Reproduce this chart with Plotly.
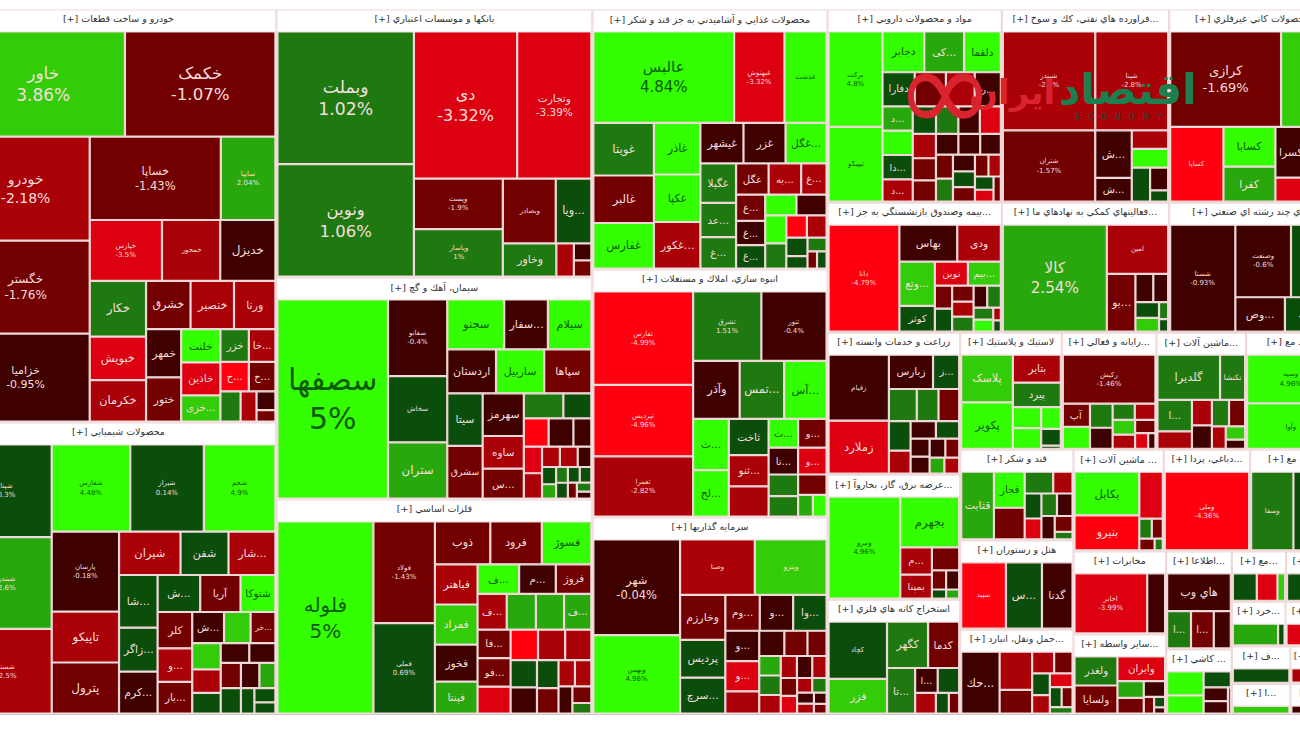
import plotly.graph_objects as go

# Names run out before values: the small tiles have no label.
auto_names = ["خاور", "خکمک", "خودرو", "خگستر", "خزامیا", "خساپا", "سایپا", "خپارس", "خمحور", "خدیزل", "خکار", "خبویش", "خکرمان", "خشرق", "خنصیر", "ورنا", "خمهر", "ختور", "خلنت", "خاذین", "خزی...", "خزر", "خا...", "خ...", "خ..."]
auto_values = [16564, 15251, 12875, 11500, 10875, 10560, 4400, 4248, 3422, 3245, 3025, 2365, 2255, 2068, 2021, 1927, 1632, 1496, 1260, 1250, 988, 900, 841, 806, 754, 589, 465, 342, 209]
auto_pct = [3.86, -1.07, -2.18, -1.76, -0.95, -1.43, 2.04, -3.5, -2.5, -0.6, 1.5, -3.5, -2.8, -1.5, -2.5, -2.6, -0.5, -1.4, 4.2, -3.5, 3.5, 1.2, -2.2, -4.5, -1.8, 1.5, -2.5, -0.5, -1.5]

chem_names = ["شپنا", "شبندر", "شستا", "شفارس", "شیراز", "شجم", "پارسان", "تاپیکو", "پترول", "شیران", "شفن", "شار...", "شا...", "زاگر...", "کرم...", "ش...", "آریا", "شتوکا", "کلر", "و...", "بار...", "ش...", "", "خر..."]
chem_values = [7826, 7740, 7138, 6399, 5994, 5832, 5040, 3213, 3213, 2500, 1950, 1908, 1900, 1584, 1512, 1476, 1395, 1209, 1178, 1088, 1024, 928, 775, 725, 700, 624, 550, 525, 480, 480, 480, 437, 380, 320, 280, 220]
chem_pct = [0.3, 2.6, -2.5, 4.48, 0.14, 4.9, -0.18, -2.8, -1.8, -2.8, 0.8, -3, 0.7, 0.6, -0.5, 0.5, -1.6, 4.5, -1.6, -2.5, -1.6, -0.6, 3.6, -1.5, 3, -2.6, 0.5, -0.5, -0.6, -1.5, 0.5, -0.6, 2.5, 0.6, 0.6, 0.6]

bank_names = ["وبملت", "ونوین", "دی", "وتجارت", "وپست", "وپاسار", "وبصادر", "ویا...", "وخاور"]
bank_values = [17554, 14874, 14729, 10582, 4350, 4089, 3328, 2240, 1716, 561, 289, 272]
bank_pct = [1.02, 1.06, -3.32, -3.39, -1.9, 1.0, -1.6, 0.7, 1.3, -2.4, -0.5, -1.6]

cement_names = ["سصفها", "سفانو", "سخاش", "ستران", "سجنو", "سفار...", "سیلام", "اردستان", "ساربیل", "سپاها", "سیتا", "سشرق", "سهرمز", "ساوه", "س..."]
cement_values = [20000, 4125, 3575, 3025, 2576, 1978, 1968, 1950, 1927, 1886, 1692, 1692, 1598, 1224, 1116, 900, 638, 638, 638, 462, 440, 418, 330, 330, 252, 221, 182, 169, 169, 168, 165, 130, 120, 90]
cement_pct = [5, -0.4, 0.6, 2, 4, -0.5, 4.5, -0.7, 4.5, -1.7, 0.7, -1.6, -0.6, -2.6, -1.5, 1.2, 0.6, -4.8, -0.6, -0.6, -3.2, -2.4, -2.6, -2.6, -0.6, 0.6, 2, 1, 0.6, 0.7, 0.7, -1.5, 1, -0.5]

metal_names = ["فلوله", "فولاد", "فملی", "ذوب", "فرود", "فسوژ", "فباهنر", "فمراد", "فخوز", "فپنتا", "ف...", "م...", "فروژ", "ف...", "", "", "ف...", "فا...", "فو..."]
metal_values = [16808, 5700, 5073, 2166, 2014, 1938, 1560, 1560, 1440, 1240, 1122, 990, 960, 952, 952, 918, 891, 858, 858, 810, 759, 750, 726, 660, 627, 550, 500, 396, 396, 342, 286, 182]
metal_pct = [5, -1.43, 0.69, -1.6, -1.6, 4.5, -2.8, 3.5, -0.6, 2, 4, -0.6, -1.6, -2.5, 2, 2, 2.5, -1.8, -1.6, -4, -4.8, -2.6, -2.5, 0.7, -0.6, 0.7, -1.6, -2.5, -2.5, -0.8, -1.6, 1.2]

food_names = ["عالبس", "غبهنوش", "غدشت", "غویتا", "غالبر", "غفارس", "غاذر", "غکپا", "غکور...", "غیشهر", "غزر", "غگل...", "غگیلا", "عد...", "غ...", "غگل", "به...", "غ...", "غ...", "غ...", "غ..."]
food_values = [11782, 4214, 3526, 2912, 2632, 2520, 2193, 2021, 1978, 1596, 1558, 1520, 1287, 1122, 1023, 928, 928, 725, 702, 648, 621, 594, 572, 540, 486, 418, 400, 360, 240, 240, 150, 150]
food_pct = [4.84, -3.32, 4.8, 1.2, -1.1, 4.5, 4, 4.2, -2.4, -0.6, -0.6, 4.4, 1.3, 1.8, 1.2, -1.6, -3, -2.7, -2, -0.7, 0.6, 4.5, -0.5, 4.4, 1.4, -4.8, -3, 0.6, 0.7, 1.5, -2, 0.7]

build_names = ["ثفارس", "ثپردیس", "ثعمرا", "ثشرق", "ثنور", "وآذر", "تمس...", "آس...", "ث...", "لح...", "ثاخت", "ثنو...", "", "ث...", "و...", "تا...", "و..."]
build_values = [8550, 6555, 5510, 4355, 4160, 2475, 2365, 2255, 1683, 1518, 1330, 1140, 1102, 783, 756, 725, 700, 588, 551, 532, 294, 273]
build_pct = [-4.99, -4.96, -2.82, 1.51, -0.4, -0.6, 1.3, 4.4, 4.4, 4.4, 0.6, -3, -2.8, 4.5, -1.5, -0.5, -4, 1.2, 1.5, -1.6, 2.2, 4]

invest_names = ["شهر", "وبهمن", "وصنا", "وپترو", "وخارزم", "پردیس", "سرچ...", "وم...", "و...", "وا...", "و...", "و..."]
invest_values = [7520, 6160, 3750, 3600, 1848, 1554, 1470, 1122, 1089, 1089, 930, 930, 682, 575, 529, 437, 380, 380, 361, 323, 306, 285, 266, 260, 200, 190, 170, 150, 130, 110]
invest_pct = [-0.04, 4.96, -2.9, 3.5, -1.8, 0.6, 0.7, -1.6, -0.6, 0.7, -0.7, -4, -2.5, -0.6, -1.6, -1.6, 2.3, 1.2, -2.6, -2.6, -0.7, -2.6, -1.5, -3.8, -2.6, 1, -0.7, -2.5, -0.6, -1.5]

drug_names = ["برکت", "تیپیکو", "دجابر", "کی...", "دلقما", "دفارا", "", "", "ر...", "د...", "", "دا...", "د..."]
drug_values = [4185, 3285, 1386, 1320, 1221, 896, 868, 800, 728, 598, 598, 598, 550, 520, 500, 480, 470, 460, 420, 400, 380, 370, 350, 330, 320, 300, 280, 260, 240, 220, 200, 180, 150]
drug_pct = [4.8, 4.8, 4, 2, 4, 0.7, -1.5, -2.5, -0.6, 2.5, 4.4, 0.5, -2.6, 0.6, 1.2, -0.6, -3.5, -2.2, -1.6, -1.6, -0.6, -0.6, -0.6, -1.5, 1.5, -0.5, 0.7, -2, -1.6, -2.5, 0.5, -4, -1.5]

oil_names = ["شبندر", "شپنا", "شتران", "ش...", "ش..."]
oil_values = [8460, 6674, 6106, 1610, 805, 630, 630, 578, 380, 190]
oil_pct = [-2.2, -2.8, -1.57, -0.6, -0.6, -2.6, 4, 0.5, -0.6, 0.6]

mineral_names = ["کرازی", "کچاد", "کساپا", "کسابا", "کفرا", "کسرا", "ک..."]
mineral_values = [9900, 4770, 3724, 1932, 1700, 1500, 1300, 630, 400, 300]
mineral_pct = [-1.69, 3, -4.5, 4.5, 2.8, -0.6, -0.6, -4, 0.7, -1.5]

insur_names = ["دانا", "بهاس", "ودی", "وتع...", "کوثر", "نوین", "بیم..."]
insur_values = [7062, 1995, 1505, 1462, 850, 736, 736, 370, 370, 320, 300, 300, 280, 280, 220, 220, 90, 80]
insur_pct = [-4.79, -0.6, -2.6, 3.2, 0.6, -3.5, 3.5, -1.5, 0.6, -1.5, -2.6, 1, -0.6, 1.5, 1.5, 4, -2.6, 0.5]

aux_names = ["کالا", "امین", "بو..."]
aux_values = [10700, 2898, 1593, 486, 405, 360, 312, 150, 110]
aux_pct = [2.54, -2.8, -1.8, -0.6, -0.6, 0.6, 3, 1.5, 0.6]

multi_names = ["شستا", "وصنعت", "وتوکا", "وص...", "اك..."]
multi_values = [6741, 3905, 3053, 1650, 1650]
multi_pct = [-0.93, -0.6, 0.6, -0.7, 0.7]

farm_names = ["زقیام", "زملارد", "زبارس", "ز..."]
farm_values = [3355, 2695, 1276, 756, 754, 588, 560, 540, 420, 375, 345, 289, 272, 252, 221, 200, 200]
farm_pct = [-0.4, -3.8, -0.6, 0.5, 1.8, 1.2, -1.8, 0.5, -2.6, -0.6, 0.5, -0.6, -0.6, -0.6, -2, 2, -2.6]

power_names = ["ونیرو", "بجهرم", "م...", "بمپنا"]
power_values = [6633, 2714, 780, 690, 567, 247, 228, 117, 108]
power_pct = [4.96, 4.2, -2.8, -3, -1.6, -1.5, -0.6, 0.7, 2]

mine_names = ["کچاد", "فزر", "کگهر", "کدما", "تا...", "ا..."]
mine_values = [3132, 1890, 1782, 1350, 1196, 525, 500, 399, 250, 200]
mine_pct = [0.7, 3, 1.5, -1.8, 1.5, -0.7, 0.7, -2.6, 0.7, -1.6]

rubber_names = ["پلاسک", "پکویر", "بتایر", "پیرد"]
rubber_values = [2160, 2112, 1176, 1029, 525, 513, 378, 288, 54]
rubber_pct = [3, 4, -2.8, 1.2, 4.4, 4, 4.2, 0.5, 0.7]

it_names = ["رکیش", "آپ"]
it_values = [4004, 552, 528, 480, 420, 315, 294, 294, 280, 240, 180, 100]
it_pct = [-1.46, -1.8, 4.3, 1.2, -0.5, 1.4, -2.6, 3, -2.6, -1.5, -4, -0.5]

mach_names = ["گلدیرا", "تکنشا", "ا..."]
mach_values = [2400, 960, 920, 512, 432, 396, 384, 360, 264, 220, 150]
mach_pct = [1.2, 1.3, 1.1, -2.8, -3, -0.6, 1, -1.6, -3, 3, -0.5]

fund_names = ["وسپه", "وآوا"]
fund_values = [4002, 3741]
fund_pct = [4.96, 4.96]

sugar_names = ["قثابت", "قجار"]
sugar_values = [1806, 902, 792, 506, 342, 342, 285, 285, 285, 253, 230, 110]
sugar_pct = [2.3, 4, -1.6, 1.5, -3, 0.5, -4, 1.2, -0.6, -0.6, -1.5, 1.5]

hotel_names = ["سپید", "س...", "گدنا"]
hotel_values = [2583, 2079, 1764]
hotel_pct = [-4.3, 0.6, -0.6]

transit_names = ["حك..."]
transit_values = [2480, 1302, 800, 500, 418, 400, 340, 323, 247, 228, 150]
transit_pct = [-0.6, -2.3, -1.8, -2.2, -1.6, 0.6, -3, -4, 0.7, -2, 1.5]

elec_names = ["بکابل", "بنیرو"]
elec_values = [2583, 2079, 1008, 228, 200, 165, 88]
elec_pct = [4.3, -4.5, -4, 1.2, -1.6, -1.6, 1.5]

leather_names = ["وملی"]
leather_values = [6308]
leather_pct = [-4.36]

fund2_names = ["وسفا"]
fund2_values = [3192, 3100]
fund2_pct = [1.2, 0.5]

telecom_names = ["اخابر"]
telecom_values = [3933, 969]
telecom_pct = [-3.99, -0.6]

broker_names = ["ولغدر", "ولسایا", "وایران"]
broker_values = [1092, 1053, 1034, 384, 360, 294, 150, 100, 60]
broker_pct = [1.3, -1.6, -4, 2.2, -2, -0.6, -2, 0.7, -0.6]

info_names = ["هاي وب", "ا...", "ا..."]
info_values = [2108, 777, 740, 555]
info_pct = [-0.6, 1.3, -1.8, -0.6]

tile_names = []
tile_values = [792, 598, 391, 306, 272, 68]
tile_pct = [4.3, 4, 0.5, -0.6, -0.6, -1]

small1_values = [550, 475, 175]
small1_pct = [0.5, -4, 3.5]
small2_values = [1250]
small2_pct = [0.7]
small3_values = [840, 120]
small3_pct = [2.3, 0.6]
small4_values = [1000]
small4_pct = [0.6]
small5_values = [518, 84]
small5_pct = [-4, -4]
small6_values = [400]
small6_pct = [3.5]
small7_values = [352, 32]
small7_pct = [-2.5, 2]
small8_values = [1000]
small8_pct = [-0.6]

# header text, names, tile values, changes, area of the whole group with its header
sectors = [
    ("خودرو و ساخت قطعات", auto_names, auto_values, auto_pct, 130921),
    ("محصولات شيميايي", chem_names, chem_values, chem_pct, 92564),
    ("بانكها و موسسات اعتباري", bank_names, bank_values, bank_pct, 84956),
    ("سيمان، آهك و گچ", cement_names, cement_values, cement_pct, 70374),
    ("فلزات اساسي", metal_names, metal_values, metal_pct, 68155),
    ("محصولات غذايي و آشاميدني به جز قند و شكر", food_names, food_values, food_pct, 61360),
    ("انبوه سازي، املاك و مستغلات", build_names, build_values, build_pct, 58528),
    ("سرمايه گذاريها", invest_names, invest_values, invest_pct, 46492),
    ("مواد و محصولات دارويي", drug_names, drug_values, drug_pct, 33775),
    ("فراورده هاي نفتي، كك و سوخ...", oil_names, oil_values, oil_pct, 32424),
    ("محصولات كاني غيرفلزي", mineral_names, mineral_values, mineral_pct, 32231),
    ("بيمه وصندوق بازنشستگي به جز...", insur_names, insur_values, insur_pct, 22750),
    ("فعاليتهاي كمكي به نهادهاي ما...", aux_names, aux_values, aux_pct, 21840),
    ("اي چند رشته اي صنعتي...", multi_names, multi_values, multi_pct, 21710),
    ("زراعت و خدمات وابسته", farm_names, farm_values, farm_pct, 18886),
    ("عرضه برق، گاز، بخاروآ...", power_names, power_values, power_pct, 16625),
    ("استخراج كانه هاي فلزي", mine_names, mine_values, mine_pct, 15295),
    ("لاستيك و پلاستيك", rubber_names, rubber_values, rubber_pct, 11934),
    ("رايانه و فعالي...", it_names, it_values, it_pct, 11115),
    ("ماشين آلات...", mach_names, mach_values, mach_pct, 10530),
    ("ند مع...", fund_names, fund_values, fund_pct, 10500),
    ("قند و شكر", sugar_names, sugar_values, sugar_pct, 10300),
    ("هتل و رستوران", hotel_names, hotel_values, hotel_pct, 10150),
    ("حمل ونقل، انبارد...", transit_names, transit_values, transit_pct, 9650),
    ("ماشين آلات ...", elec_names, elec_values, elec_pct, 9200),
    ("دباغي، پردا...", leather_names, leather_values, leather_pct, 8800),
    ("ت مع...", fund2_names, fund2_values, fund2_pct, 8700),
    ("مخابرات", telecom_names, telecom_values, telecom_pct, 7719),
    ("ساير واسطه...", broker_names, broker_values, broker_pct, 7440),
    ("اطلاعا...", info_names, info_values, info_pct, 6468),
    ("كاشي ...", tile_names, tile_values, tile_pct, 4290),
    ("مع...", [], small1_values, small1_pct, 2744),
    ("ت...", [], small2_values, small2_pct, 2500),
    ("خرد...", [], small3_values, small3_pct, 2408),
    ("مع...", [], small5_values, small5_pct, 2240),
    ("ف...", [], small4_values, small4_pct, 2200),
    ("ا...", [], small6_values, small6_pct, 1800),
    ("خد...", [], small7_values, small7_pct, 1680),
    ("...", [], small8_values, small8_pct, 1400),
]

# labels that are drawn tiny in the reference although the tile is big
tiny_names = {"سایپا", "خپارس", "خمحور", "شفارس", "شیراز", "شجم", "پارسان", "وپست", "وپاسار", "وبصادر",
              "سفانو", "سخاش", "فولاد", "فملی", "غبهنوش", "غدشت", "ثفارس", "ثپردیس", "ثعمرا", "ثشرق", "ثنور",
              "وبهمن", "وصنا", "وپترو", "برکت", "تیپیکو", "شبندر", "شپنا", "شتران", "کچاد", "کساپا",
              "دانا", "امین", "شستا", "وصنعت", "زقیام", "ونیرو", "رکیش", "وسپه", "وآوا", "سپید", "وملی", "وسفا", "اخابر"}
font_overrides = {"سصفها": 30, "فلوله": 20, "خساپا": 11.5, "شهر": 11.5, "خزامیا": 11, "خگستر": 12, "خودرو": 14,
                  "عالبس": 15, "کرازی": 13, "وتجارت": 10.5, "دی": 16}


def tile_color(p):
    if p >= 4:
        return "#33FF00"
    if p >= 3:
        return "#33CC08"
    if p >= 2:
        return "#28A80C"
    if p >= 1:
        return "#1E7A10"
    if p >= 0:
        return "#0B4D0B"
    if p >= -1:
        return "#3F0000"
    if p >= -2:
        return "#730000"
    if p >= -3:
        return "#AA0008"
    if p >= -4:
        return "#DD0010"
    return "#FF0010"


total = sum(s[4] for s in sectors)
ids, labels, parents, values, texts = ["root"], [" "], [""], [total], [""]
colors, sizes, text_colors, line_widths = ["white"], [9], ["#333333"], [0]
for i, (head, names, vals, pcts, area) in enumerate(sectors):
    scale = area / sum(vals)
    scaled = [v * scale for v in vals]
    sid = f"s{i}"
    ids.append(sid)
    labels.append("[+] " + head)
    parents.append("root")
    values.append(area)
    texts.append("[+] " + head)
    colors.append("white")
    sizes.append(9.5)
    text_colors.append("#333333")
    line_widths.append(1.2)
    for j, (v, sv, p) in enumerate(zip(vals, scaled, pcts)):
        name = names[j] if j < len(names) else ""
        ids.append(f"{sid}/{j}")
        labels.append(name or " ")
        parents.append(sid)
        values.append(sv * (1 - 1e-9))
        text = name
        if name and v >= 3900:
            text = f"{name}<br>{p:g}%"
        texts.append(text)
        colors.append(tile_color(p))
        if name in font_overrides:
            sizes.append(font_overrides[name])
        elif name in tiny_names:
            sizes.append(7)
        else:
            sizes.append(8 + 0.07 * v ** 0.5)
        text_colors.append("#0B5A0B" if p >= 3.9 else "#F6DEDE")
        line_widths.append(1.2)

fig = go.Figure(go.Treemap(
    ids=ids,
    labels=labels,
    parents=parents,
    values=values,
    text=texts,
    textinfo="text",
    hoverinfo="skip",
    branchvalues="total",
    textposition="middle center",
    textfont=dict(family="DejaVu Sans", size=sizes, color=text_colors),
    marker=dict(colors=colors, depthfade=False, line=dict(color="#F0D8D8", width=line_widths),
                pad=dict(t=22, l=1, r=1, b=1)),
    tiling=dict(packing="squarify", pad=1),
    pathbar=dict(visible=False),
))

W, H = 1376, 753


def px(x):
    return (x + 40) / W


def py(y):
    return (715 - y) / (H - 10 - 16)


fig.update_layout(
    width=W,
    height=H,
    margin=dict(l=0, r=0, t=10, b=16),
    paper_bgcolor="white",
    font=dict(family="DejaVu Sans"),
    showlegend=False,
    # white rule over the dark hairline plotly leaves under the map
    shapes=[dict(type="line", xref="paper", yref="paper", x0=0, x1=1, y0=py(716.5), y1=py(716.5),
                 line=dict(color="white", width=4), layer="above")],
    annotations=[
        dict(text="<b>اقتصاد</b>", x=px(1128), y=py(89), xref="paper", yref="paper", showarrow=False,
             xanchor="center", yanchor="middle", font=dict(size=42, color="#1B7F4F")),
        dict(text="<b>ایران</b>", x=px(1012), y=py(93), xref="paper", yref="paper", showarrow=False,
             xanchor="center", yanchor="middle", font=dict(size=34, color="#D9232E")),
        dict(text="∞", x=px(945), y=py(90), xref="paper", yref="paper", showarrow=False,
             xanchor="center", yanchor="middle", font=dict(size=120, color="#D9232E")),
        dict(text="E   C   O   N   O   M   Y", x=px(1118), y=py(118), xref="paper", yref="paper", showarrow=False,
             xanchor="center", yanchor="middle", font=dict(size=8, color="#1B4F3A")),
    ],
)

# the reference is a crop: the map runs past both sides of the photo, the root's empty header goes off the top
fig.write_html(
    "out.html",
    config=dict(displayModeBar=False),
    post_script="document.body.style.margin='0';document.body.style.overflow='hidden';"
                "var gd=document.getElementById('{plot_id}');gd.style.marginLeft='-40px';gd.style.marginTop='-22px';",
)
